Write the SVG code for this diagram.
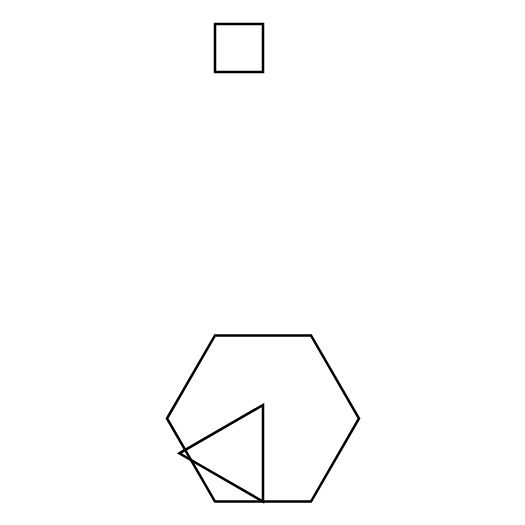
<svg xmlns="http://www.w3.org/2000/svg" width="525" height="525" viewBox="0 0 525 525">
<style>.s{fill:none;stroke:#000;stroke-width:2.5;stroke-linejoin:miter}</style>
<rect width="525" height="525" fill="#fff"/>
<g id="square"><rect class="s" x="215" y="24" width="48" height="48"/></g>
<g id="hexagon"><polygon class="s" points="167,418.5 215,335.4 311,335.4 359,418.5 311,501.6 215,501.6"/></g>
<g id="triangle"><polygon class="s" points="263,405 179.3,453.3 263,501.6"/></g>
</svg>
